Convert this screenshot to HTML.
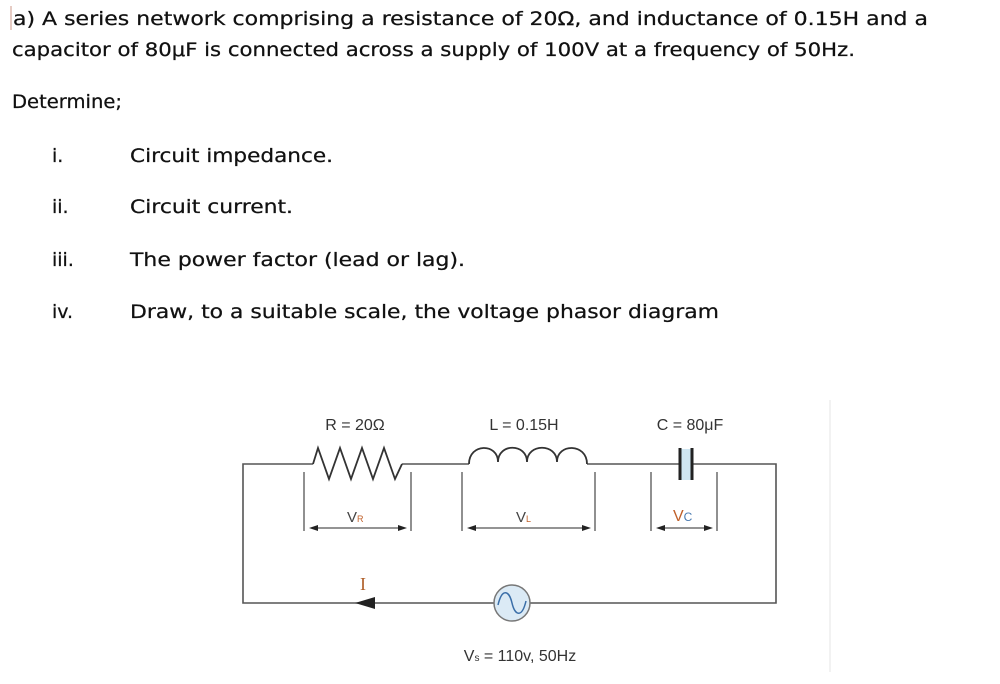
<!DOCTYPE html>
<html><head><meta charset="utf-8"><style>
html,body{margin:0;padding:0;background:#fff;width:1000px;height:684px;overflow:hidden}
svg{display:block}
.t{font-family:"DejaVu Sans","Liberation Sans",sans-serif;font-size:19px;fill:#111;stroke:#111;stroke-width:0.25}
.c{font-family:"Liberation Sans",sans-serif;font-size:16px;fill:#333}
</style></head><body>
<svg width="1000" height="684" viewBox="0 0 1000 684" xmlns="http://www.w3.org/2000/svg">
<line x1="11" y1="6" x2="11" y2="30" stroke="#c98" stroke-width="1"/>
<text class="t" x="13" y="25" textLength="915" lengthAdjust="spacingAndGlyphs">a) A series network comprising a resistance of 20Ω, and inductance of 0.15H and a</text>
<text class="t" x="12" y="56" textLength="843" lengthAdjust="spacingAndGlyphs">capacitor of 80μF is connected across a supply of 100V at a frequency of 50Hz.</text>
<text class="t" x="12" y="108" textLength="110" lengthAdjust="spacingAndGlyphs">Determine;</text>
<text class="t" x="52" y="162">i.</text>
<text class="t" x="130" y="162" textLength="203" lengthAdjust="spacingAndGlyphs">Circuit impedance.</text>
<text class="t" x="52" y="213">ii.</text>
<text class="t" x="130" y="213" textLength="163" lengthAdjust="spacingAndGlyphs">Circuit current.</text>
<text class="t" x="52" y="266">iii.</text>
<text class="t" x="130" y="266" textLength="335" lengthAdjust="spacingAndGlyphs">The power factor (lead or lag).</text>
<text class="t" x="52" y="318">iv.</text>
<text class="t" x="130" y="318" textLength="589" lengthAdjust="spacingAndGlyphs">Draw, to a suitable scale, the voltage phasor diagram</text>

<line x1="830" y1="400" x2="830" y2="672" stroke="#e4e4e4" stroke-width="1"/>

<g fill="none" stroke="#555" stroke-width="1.6">
<polyline points="313,464 243,464 243,603 494,603"/>
<polyline points="530,603 776,603 776,464 693,464"/>
<line x1="679" y1="464" x2="587" y2="464"/>
<line x1="402" y1="464" x2="469" y2="464"/>
<polyline points="313,464 318,448 329,479 340,448 351,479 362,448 373,479 384,448 395,479 402,464" stroke="#333" stroke-width="1.8"/>
<path d="M469,464 C469,443 498,443 498,462 C498,443 527,443 527,462 C527,443 557,443 557,462 C557,443 587,443 587,464" stroke="#333" stroke-width="1.8"/>
</g>
<rect x="680" y="449" width="12" height="31" fill="#cfe6f2"/>
<line x1="680" y1="448" x2="680" y2="480" stroke="#222" stroke-width="3"/>
<line x1="692" y1="448" x2="692" y2="480" stroke="#222" stroke-width="3"/>
<g stroke="#555" stroke-width="1.3">
<line x1="304" y1="472" x2="304" y2="531"/><line x1="411" y1="472" x2="411" y2="531"/>
<line x1="462" y1="472" x2="462" y2="531"/><line x1="595" y1="472" x2="595" y2="531"/>
<line x1="651" y1="472" x2="651" y2="531"/><line x1="717" y1="472" x2="717" y2="531"/>
<line x1="312" y1="528" x2="404" y2="528"/>
<line x1="470" y1="528" x2="588" y2="528"/>
<line x1="659" y1="528" x2="710" y2="528"/>
</g>
<g fill="#222">
<polygon points="309,528 318,525 318,531"/><polygon points="407,528 398,525 398,531"/>
<polygon points="467,528 476,525 476,531"/><polygon points="591,528 582,525 582,531"/>
<polygon points="656,528 665,525 665,531"/><polygon points="713,528 704,525 704,531"/>
<polygon points="355,603 375,597 375,609"/>
</g>
<circle cx="512" cy="603" r="18" fill="#dbeaf5" stroke="#777" stroke-width="1.5"/>
<path d="M498,605 C502,588 509,590 512,603 C515,616 522,618 526,601" fill="none" stroke="#3a6ea8" stroke-width="1.5"/>
<text class="c" x="355" y="430" text-anchor="middle">R = 20Ω</text>
<text class="c" x="524" y="430" text-anchor="middle">L = 0.15H</text>
<text class="c" x="690" y="430" text-anchor="middle">C = 80μF</text>
<text x="347" y="522" font-family="Liberation Sans,sans-serif" font-size="15" fill="#444">V<tspan font-size="9" fill="#c0602a">R</tspan></text>
<text x="516" y="522" font-family="Liberation Sans,sans-serif" font-size="15" fill="#444">V<tspan font-size="9" fill="#c0602a">L</tspan></text>
<text x="673" y="521" font-family="Liberation Sans,sans-serif" font-size="16" fill="#c0602a">V<tspan font-size="12" fill="#4a7ab0">C</tspan></text>
<text x="363" y="590" text-anchor="middle" font-family="Liberation Serif,serif" font-size="18" fill="#b0602a">I</text>
<text class="c" x="520" y="661" text-anchor="middle">V<tspan font-size="10">s</tspan> = 110v, 50Hz</text>
</svg>
</body></html>
